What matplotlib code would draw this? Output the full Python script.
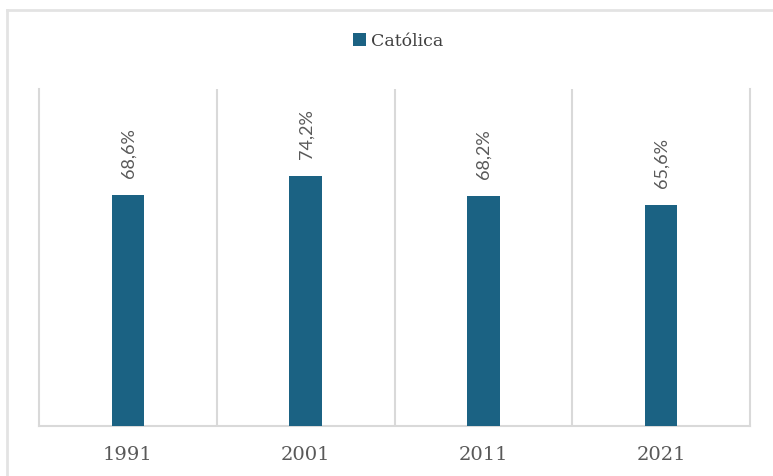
import matplotlib.pyplot as plt
from matplotlib.lines import Line2D

years = ["1991", "2001", "2011", "2021"]
catolica = [68.6, 74.2, 68.2, 65.6]
labels = ["68,6%", "74,2%", "68,2%", "65,6%"]

bar_color = "#1B6283"
grid_color = "#D9D9D9"

fig = plt.figure(figsize=(7.73, 4.77), dpi=100)
ax = fig.add_axes([39 / 773, 50 / 477, 711 / 773, 337 / 477])

x = list(range(len(years)))
ax.bar(x, catolica, width=0.183, color=bar_color, label="Católica", zorder=3)

for xi, v, lab in zip(x, catolica, labels):
    ax.annotate(lab, (xi, v), xytext=(0.5, 13), textcoords="offset points",
                rotation=90, ha="center", va="bottom", fontsize=13,
                color="#595959", family="Lato")

ax.set_xlim(-0.5, 3.5)
ax.set_ylim(0, 100)
ax.set_yticks([])
ax.set_xticks(x)
ax.set_xticklabels(years, family="DejaVu Serif", fontsize=14, color="#595959")
ax.tick_params(axis="x", length=0, pad=14)
ax.set_xticks([0.5, 1.5, 2.5], minor=True)
ax.tick_params(axis="x", which="minor", length=0)
ax.grid(which="minor", axis="x", color=grid_color, lw=1.5)

ax.spines["top"].set_visible(False)
for side in ("left", "right", "bottom"):
    ax.spines[side].set_color(grid_color)
    ax.spines[side].set_linewidth(1.5)

fig.legend(loc="center", bbox_to_anchor=(0.515, 0.912), frameon=False,
           handlelength=0.75, handleheight=0.75, handletextpad=0.3,
           prop={"family": "DejaVu Serif", "size": 12.5}, labelcolor="#404040")

# outer chart frame (only left and top edges visible)
fig.add_artist(Line2D([7 / 773, 7 / 773], [0, 1 - 11 / 477], color="#E3E3E3", lw=2,
                      transform=fig.transFigure))
fig.add_artist(Line2D([7 / 773, 1], [1 - 11 / 477, 1 - 11 / 477], color="#E3E3E3", lw=2,
                      transform=fig.transFigure))

fig.savefig("out.png", dpi=100)
